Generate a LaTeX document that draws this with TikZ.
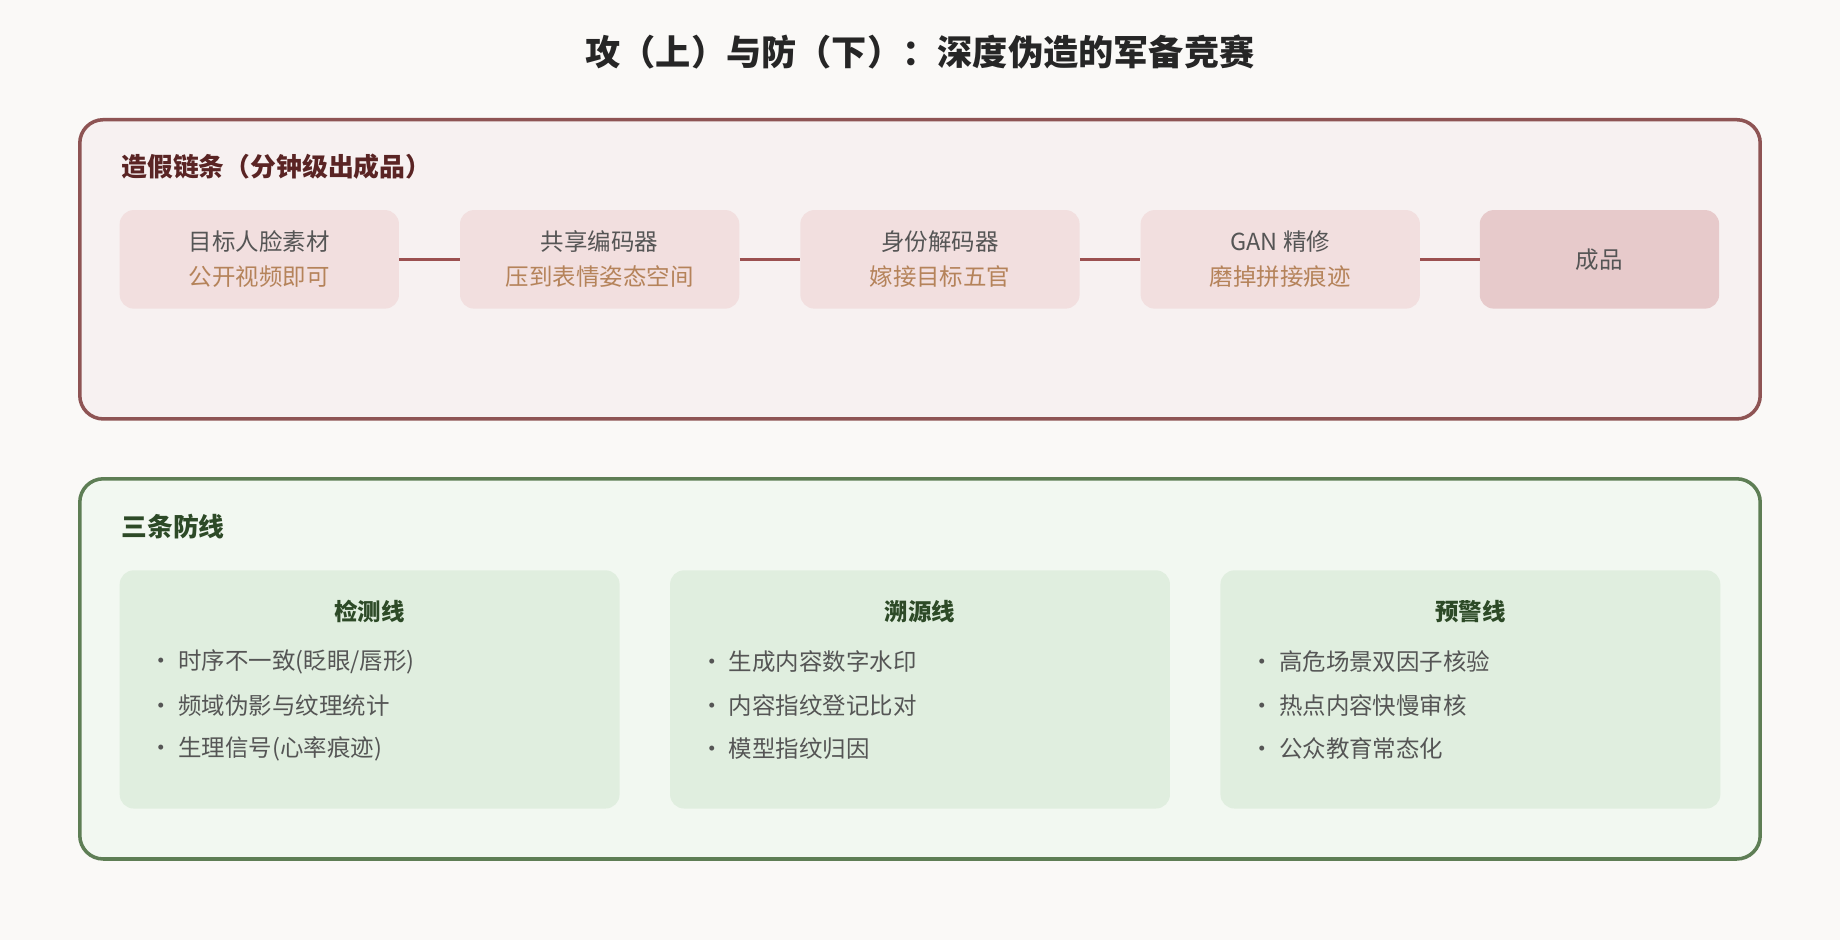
\documentclass[tikz,border=0pt]{standalone}
\usepackage{fontspec}
\setmainfont{Noto Sans CJK SC}
\begin{document}
\definecolor{bg}{HTML}{FAF9F7}
\definecolor{redb}{HTML}{8E5454}
\definecolor{redf}{HTML}{F7F1F1}
\definecolor{redn}{HTML}{F2DFDF}
\definecolor{redn2}{HTML}{E7CACB}
\definecolor{redh}{HTML}{5A2424}
\definecolor{tan}{HTML}{B5835A}
\definecolor{txt}{HTML}{555555}
\definecolor{conn}{HTML}{9B5050}
\definecolor{grb}{HTML}{5E7E55}
\definecolor{grf}{HTML}{F2F8F1}
\definecolor{grn}{HTML}{E0EEDF}
\definecolor{grh}{HTML}{2D4A27}
\begin{tikzpicture}[x=1pt,y=-1pt,
  box/.style={rounded corners=20pt,line width=3pt},
  stepnode/.style={rounded corners=12pt,fill=redn,draw=none,minimum height=84pt,align=center,font=\fontsize{20}{30}\selectfont,text=txt},
  panel/.style={rounded corners=12pt,fill=grn},
  head/.style={anchor=west,font=\bfseries\fontsize{22}{26}\selectfont},
  bul/.style={anchor=west,text=txt,font=\fontsize{20}{24}\selectfont},
  ptitle/.style={text=grh,font=\bfseries\fontsize{20}{24}\selectfont},
  link/.style={draw=conn,line width=3pt}]
\fill[bg] (0,0) rectangle (1568,801);
\useasboundingbox (0,0) rectangle (1568,801);
\node[font=\bfseries\fontsize{30}{36}\selectfont,text=black!85] (title) at (784,44) {攻（上）与防（下）：深度伪造的军备竞赛};
% top
\draw[box,draw=redb,fill=redf] (68,102) rectangle (1500,357);
\node[head,text=redh] (h1) at (100,142) {造假链条（分钟级出成品）};
\node[stepnode,minimum width=238pt] (s1) at (221,221) {目标人脸素材\\\textcolor{tan}{公开视频即可}};
\node[stepnode,minimum width=238pt] (s2) at (511,221) {共享编码器\\\textcolor{tan}{压到表情姿态空间}};
\node[stepnode,minimum width=238pt] (s3) at (801,221) {身份解码器\\\textcolor{tan}{嫁接目标五官}};
\node[stepnode,minimum width=238pt] (s4) at (1091,221) {GAN 精修\\\textcolor{tan}{磨掉拼接痕迹}};
\node[stepnode,minimum width=204pt,fill=redn2] (s5) at (1363,221) {成品};
\draw[link] (s1.east) -- (s2.west);
\draw[link] (s2.east) -- (s3.west);
\draw[link] (s3.east) -- (s4.west);
\draw[link] (s4.east) -- (s5.west);
% bottom
\draw[box,draw=grb,fill=grf] (68,408) rectangle (1500,732);
\node[head,text=grh] (h2) at (100,449) {三条防线};
\fill[panel] (102,486) rectangle (528,689);
\fill[panel] (571,486) rectangle (997,689);
\fill[panel] (1040,486) rectangle (1466,689);
\node[ptitle] (p1) at (315,521) {检测线};
\node[ptitle] (p2) at (784,521) {溯源线};
\node[ptitle] (p3) at (1253,521) {预警线};
\node[bul] (a1) at (124,564) {· 时序不一致(眨眼/唇形)};
\node[bul] (a2) at (124,601) {· 频域伪影与纹理统计};
\node[bul] (a3) at (124,638) {· 生理信号(心率痕迹)};
\node[bul] (b1) at (593,564) {· 生成内容数字水印};
\node[bul] (b2) at (593,601) {· 内容指纹登记比对};
\node[bul] (b3) at (593,638) {· 模型指纹归因};
\node[bul] (c1) at (1062,564) {· 高危场景双因子核验};
\node[bul] (c2) at (1062,601) {· 热点内容快慢审核};
\node[bul] (c3) at (1062,638) {· 公众教育常态化};
\end{tikzpicture}
\end{document}
